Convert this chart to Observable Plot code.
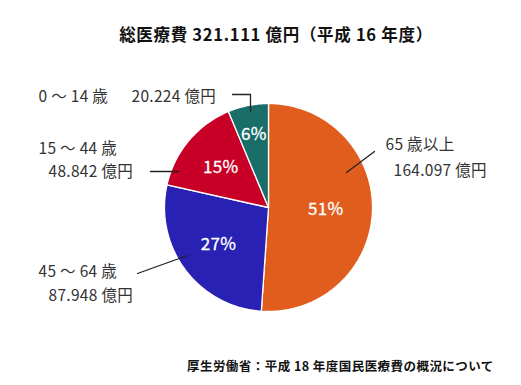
<!DOCTYPE html>
<html><head><meta charset="utf-8">
<script src="https://cdn.jsdelivr.net/npm/d3@7"></script>
<script src="https://cdn.jsdelivr.net/npm/@observablehq/plot@0.6"></script>
<style>
body{margin:0;background:#fff;font-family:"Noto Sans CJK JP",sans-serif;}
#wrap{position:relative;width:521px;height:385px;overflow:hidden;}
#title{position:absolute;left:0;width:552px;top:22px;text-align:center;font-weight:bold;font-size:16.5px;letter-spacing:0.7px;color:#111;z-index:2;white-space:nowrap;}
#caption{position:absolute;left:187px;top:356px;font-weight:bold;font-size:12.5px;letter-spacing:0.45px;color:#111;z-index:2;white-space:nowrap;}
#chart{position:absolute;left:0;top:0;}
</style>
</head><body>
<div id="wrap">
<div id="title">総医療費 321.111 億円（平成 16 年度）</div>
<div id="chart"></div>
<div id="caption">厚生労働省：平成 18 年度国民医療費の概況について</div>
</div>
<script>
const groups = ["65 歳以上", "45 ～ 64 歳", "15 ～ 44 歳", "0 ～ 14 歳"];
const values = [164.097, 87.948, 48.842, 20.224];
const percentLabels = ["51%", "27%", "15%", "6%"];
const amountLabels = ["164.097 億円", "87.948 億円", "48.842 億円", "20.224 億円"];
const colors = ["#e05d1e", "#2821b4", "#c80028", "#1a6e69"];

// layout (pixels) for the pie and the annotations
const W = 521, H = 385, CX = 268, CY = 207, R = 104;
const ux = px => (px - CX) / R;
const uy = py => (CY - py) / R;

const arcs = d3.pie().sort(null).value(d => d)(values);
const polys = [];
arcs.forEach((a, i) => {
  const g = groups[i];
  polys.push({g, x: 0, y: 0});
  const n = Math.max(2, Math.ceil((a.endAngle - a.startAngle) / (Math.PI / 180)));
  for (let k = 0; k <= n; k++) {
    const t = a.startAngle + (a.endAngle - a.startAngle) * k / n;
    polys.push({g, x: Math.sin(t), y: Math.cos(t)});
  }
  polys.push({g, x: 0, y: 0});
});
const total = d3.sum(values);
const pct = arcs.map((a, i) => {
  const m = (a.startAngle + a.endAngle) / 2;
  const share = values[i] / total;
  const r = share > 0.5 ? 0.55 : share < 0.1 ? 0.72 : 0.6;
  return {label: percentLabels[i], x: r * Math.sin(m), y: r * Math.cos(m)};
});

// annotation placement (pixel positions of text left edge / vertical middle)
const annText = [
  {t: groups[3], px: 38, py: 97},
  {t: amountLabels[3], px: 131, py: 97},
  {t: groups[2], px: 38, py: 149},
  {t: amountLabels[2], px: 48, py: 172},
  {t: groups[0], px: 385, py: 145},
  {t: amountLabels[0], px: 393, py: 171},
  {t: groups[1], px: 38, py: 272},
  {t: amountLabels[1], px: 48, py: 296}
].map(d => ({t: d.t, x: ux(d.px), y: uy(d.py)}));
const leaders = [
  {k: "a", px: 232, py: 94}, {k: "a", px: 250, py: 94}, {k: "a", px: 250, py: 111},
  {k: "b", px: 150, py: 171}, {k: "b", px: 178, py: 171},
  {k: "c", px: 346, py: 172}, {k: "c", px: 374, py: 151},
  {k: "d", px: 137, py: 273}, {k: "d", px: 187, py: 255}
].map(d => ({k: d.k, x: ux(d.px), y: uy(d.py)}));

const chart = Plot.plot({
  width: W, height: H,
  margin: 0,
  x: {domain: [ux(0), ux(W)], axis: null},
  y: {domain: [uy(H), uy(0)], axis: null},
  color: {domain: groups, range: colors},
  style: {fontFamily: '"Noto Sans CJK JP", sans-serif', background: "transparent", letterSpacing: "0.3px"},
  marks: [
    Plot.line(polys, {x: "x", y: "y", z: "g", fill: "g", stroke: "white", strokeWidth: 1.3, curve: "linear"}),
    Plot.text(pct, {x: "x", y: "y", text: "label", fill: "white", stroke: "white", strokeWidth: 0.3, fontSize: 17}),
    Plot.line(leaders, {x: "x", y: "y", z: "k", stroke: "#222", strokeWidth: 1.3}),
    Plot.text(annText, {x: "x", y: "y", text: "t", textAnchor: "start", fill: "#333", fontSize: 15.5})
  ]
});
document.getElementById("chart").appendChild(chart);
</script>
</body></html>
